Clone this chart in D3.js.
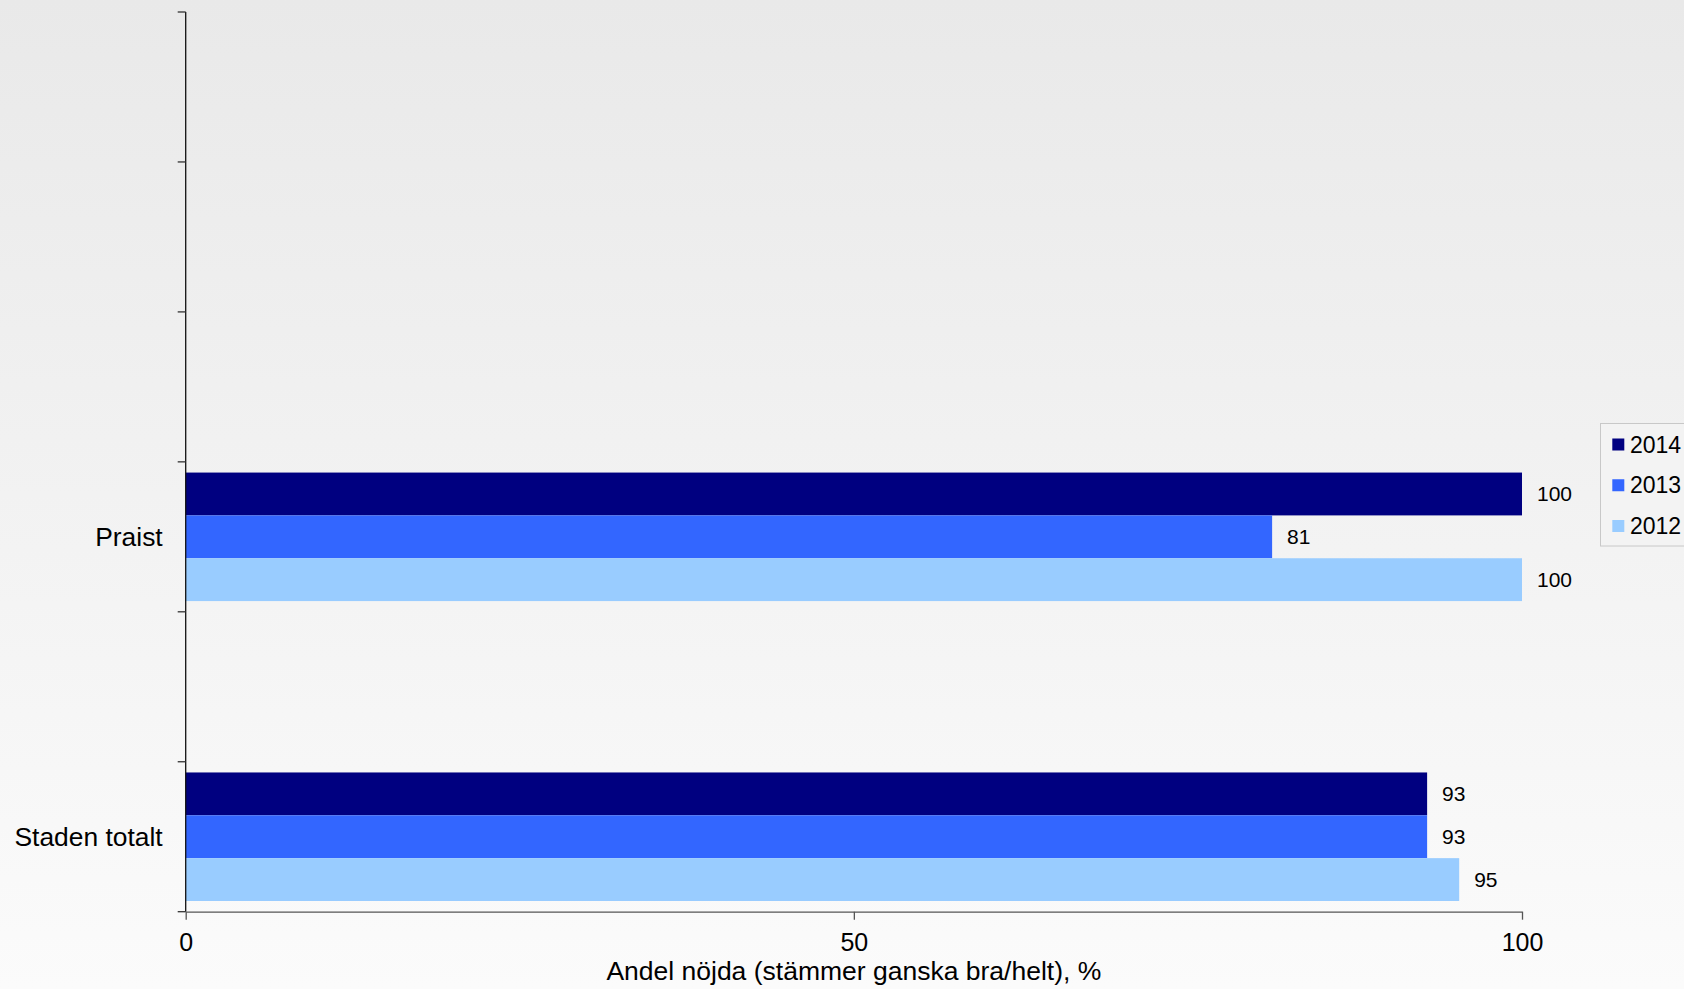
<!DOCTYPE html>
<html>
<head>
<meta charset="utf-8">
<script src="https://cdn.jsdelivr.net/npm/d3@7"></script>
<style>
  html, body { margin: 0; padding: 0; background: #fafafa; }
  svg { display: block; font-family: "Liberation Sans", Arial, sans-serif; }
</style>
</head>
<body>
<svg id="chart" width="1684" height="989"></svg>
<script>
// ---- data ----
const categories = ["", "", "", "Praist", "", "Staden totalt"];
const seriesNames = ["2014", "2013", "2012"];
const values2014 = [null, null, null, 100, null, 92.9];
const values2013 = [null, null, null, 81.3, null, 92.9];
const values2012 = [null, null, null, 100, null, 95.3];
const valueLabels2014 = [null, null, null, "100", null, "93"];
const valueLabels2013 = [null, null, null, "81", null, "93"];
const valueLabels2012 = [null, null, null, "100", null, "95"];
const xTicks = [0, 50, 100];
const xTitle = "Andel nöjda (stämmer ganska bra/helt), %";
const colors = ["#000080", "#3366FF", "#99CCFF"];

(function () {
const seriesValues = [values2014, values2013, values2012];
const seriesLabels = [valueLabels2014, valueLabels2013, valueLabels2012];

const svg = d3.select("#chart");
const W = 1684, H = 989;

// background gradient
const defs = svg.append("defs");
const grad = defs.append("linearGradient").attr("id", "bg").attr("x1", 0).attr("y1", 0).attr("x2", 0).attr("y2", 1);
grad.append("stop").attr("offset", "0%").attr("stop-color", "#e9e9e9");
grad.append("stop").attr("offset", "100%").attr("stop-color", "#fbfbfb");
svg.append("rect").attr("width", W).attr("height", H).attr("fill", "url(#bg)");

const pLeft = 185.7, pRight = 1522, pTop = 12, pBottom = 911.7;

const x = d3.scaleLinear().domain([0, 100]).range([pLeft, pRight]);
const idx = categories.map((d, i) => i);
const y = d3.scaleBand().domain(idx).range([pTop, pBottom]).paddingInner(0).paddingOuter(0);
const yInner = d3.scaleBand().domain(seriesNames).range([0, y.bandwidth()]).paddingInner(0).paddingOuter(0.25);

// bars
seriesNames.forEach((s, si) => {
  const g = svg.append("g");
  const data = idx.filter(i => seriesValues[si][i] != null);
  g.selectAll("rect").data(data).enter().append("rect")
    .attr("x", x(0))
    .attr("y", i => y(i) + yInner(s))
    .attr("width", i => x(seriesValues[si][i]) - x(0))
    .attr("height", yInner.bandwidth())
    .attr("fill", colors[si]);
  g.selectAll("text").data(data).enter().append("text")
    .attr("x", i => x(seriesValues[si][i]) + 15)
    .attr("y", i => y(i) + yInner(s) + yInner.bandwidth() / 2)
    .attr("dy", "0.35em")
    .attr("font-size", 21)
    .attr("fill", "#000")
    .text(i => seriesLabels[si][i]);
});

// y axis (ticks at band boundaries)
const yAxis = svg.append("g");
yAxis.append("line").attr("x1", x(0)).attr("x2", x(0)).attr("y1", pTop).attr("y2", pBottom)
  .attr("stroke", "#111").attr("stroke-width", 1.3);
const bounds = idx.map(i => y(i)).concat([pBottom]);
yAxis.selectAll("line.tick").data(bounds).enter().append("line").attr("class", "tick")
  .attr("x1", x(0) - 8).attr("x2", x(0)).attr("y1", d => d).attr("y2", d => d)
  .attr("stroke", "#333").attr("stroke-width", 1.3);
yAxis.selectAll("text").data(idx.filter(i => categories[i] !== "")).enter().append("text")
  .attr("x", x(0) - 23)
  .attr("y", i => y(i) + y.bandwidth() / 2)
  .attr("dy", "0.35em")
  .attr("text-anchor", "end")
  .attr("font-size", 26.4)
  .text(i => categories[i]);

// x axis
const xAxis = svg.append("g").attr("transform", `translate(0,${pBottom})`)
  .call(d3.axisBottom(x).tickValues(xTicks).tickSize(8).tickSizeOuter(0).tickPadding(14));
xAxis.select(".domain").attr("stroke", "#555").attr("stroke-width", 1.3);
xAxis.selectAll(".tick line").attr("stroke", "#555").attr("stroke-width", 1.3);
xAxis.selectAll(".tick text").attr("font-size", 25).attr("font-family", "Liberation Sans, Arial, sans-serif").attr("fill", "#000");

svg.append("text")
  .attr("x", (pLeft + pRight) / 2)
  .attr("y", 980)
  .attr("text-anchor", "middle")
  .attr("font-size", 26.5)
  .text(xTitle);

// legend
const lg = svg.append("g");
lg.append("rect").attr("x", 1600.5).attr("y", 423.5).attr("width", 100).attr("height", 122.5)
  .attr("fill", "#f3f3f3").attr("stroke", "#c8c8c8").attr("stroke-width", 1);
const legY = d3.scalePoint().domain(seriesNames).range([444.5, 526]);
seriesNames.forEach((s, si) => {
  lg.append("rect").attr("x", 1612.3).attr("y", legY(s) - 6).attr("width", 12).attr("height", 12).attr("fill", colors[si]);
  lg.append("text").attr("x", 1630).attr("y", legY(s)).attr("dy", "0.35em").attr("font-size", 23).text(s);
});
})();
</script>
</body>
</html>
